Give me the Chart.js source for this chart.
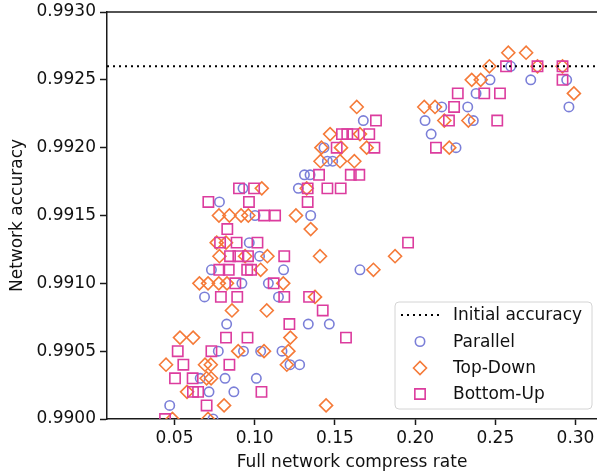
<!DOCTYPE html>
<html>
<head>
<meta charset="utf-8">
<script src="https://cdn.jsdelivr.net/npm/chart.js@4"></script>
<style>
  html, body { margin: 0; padding: 0; background: #fff; }
  #wrap { width: 597px; height: 474px; }
</style>
</head>
<body>
<div id="wrap"><canvas id="c" width="597" height="474"></canvas></div>
<script>
// ---- data ----
const xTicks = [0.05, 0.10, 0.15, 0.20, 0.25, 0.30];
const yTicks = [0.9900, 0.9905, 0.9910, 0.9915, 0.9920, 0.9925, 0.9930];
const xRange = [0.0079, 0.3134];
const yRange = [0.9900, 0.9930];
const initialAccuracy = 0.9926;
const seriesNames = ['Initial accuracy', 'Parallel', 'Top-Down', 'Bottom-Up'];

const parallelX = [0.074, 0.047, 0.0715, 0.087, 0.066, 0.0815, 0.101, 0.122, 0.128, 0.0773, 0.093, 0.1037, 0.117, 0.0825, 0.1334, 0.1465, 0.0687, 0.1148, 0.092, 0.1085, 0.073, 0.118, 0.1656, 0.103, 0.0966, 0.1002, 0.1349, 0.078, 0.0927, 0.1272, 0.131, 0.1345, 0.1453, 0.1486, 0.1432, 0.2255, 0.210, 0.1677, 0.2062, 0.2363, 0.2166, 0.2328, 0.2959, 0.238, 0.2467, 0.2721, 0.2945, 0.2596];
const parallelY = [0.9900, 0.9901, 0.9902, 0.9902, 0.9903, 0.9903, 0.9903, 0.9904, 0.9904, 0.9905, 0.9905, 0.9905, 0.9905, 0.9907, 0.9907, 0.9907, 0.9909, 0.9909, 0.9910, 0.9910, 0.9911, 0.9911, 0.9911, 0.9912, 0.9913, 0.9915, 0.9915, 0.9916, 0.9917, 0.9917, 0.9918, 0.9918, 0.9919, 0.9919, 0.9920, 0.9920, 0.9921, 0.9922, 0.9922, 0.9922, 0.9923, 0.9923, 0.9923, 0.9924, 0.9925, 0.9925, 0.9925, 0.9926];

const topDownX = [0.0487, 0.0709, 0.0809, 0.1445, 0.0578, 0.070, 0.0728, 0.0447, 0.069, 0.0726, 0.120, 0.0897, 0.1058, 0.121, 0.0534, 0.0616, 0.1222, 0.0858, 0.1075, 0.1376, 0.0655, 0.0709, 0.0776, 0.0827, 0.1178, 0.1037, 0.174, 0.078, 0.094, 0.1079, 0.1407, 0.1875, 0.0763, 0.0821, 0.1349, 0.0777, 0.0842, 0.0915, 0.096, 0.1257, 0.1044, 0.1324, 0.141, 0.1532, 0.1621, 0.1416, 0.1538, 0.1698, 0.2213, 0.147, 0.1656, 0.2182, 0.2332, 0.1636, 0.2057, 0.2124, 0.299, 0.2353, 0.2409, 0.2463, 0.2763, 0.2919, 0.2581, 0.2692];
const topDownY = [0.9900, 0.9900, 0.9901, 0.9901, 0.9902, 0.9903, 0.9903, 0.9904, 0.9904, 0.9904, 0.9904, 0.9905, 0.9905, 0.9905, 0.9906, 0.9906, 0.9906, 0.9908, 0.9908, 0.9909, 0.9910, 0.9910, 0.9910, 0.9910, 0.9910, 0.9911, 0.9911, 0.9912, 0.9912, 0.9912, 0.9912, 0.9912, 0.9913, 0.9913, 0.9914, 0.9915, 0.9915, 0.9915, 0.9915, 0.9915, 0.9917, 0.9917, 0.9919, 0.9919, 0.9919, 0.9920, 0.9920, 0.9920, 0.9920, 0.9921, 0.9921, 0.9922, 0.9922, 0.9923, 0.9923, 0.9923, 0.9924, 0.9925, 0.9925, 0.9926, 0.9926, 0.9926, 0.9927, 0.9927];

const bottomUpX = [0.0441, 0.070, 0.0615, 0.0647, 0.1042, 0.0503, 0.0613, 0.0555, 0.0842, 0.052, 0.073, 0.0821, 0.0955, 0.1569, 0.1216, 0.1424, 0.0789, 0.0891, 0.1184, 0.1339, 0.0879, 0.1118, 0.0779, 0.0838, 0.0953, 0.0977, 0.0846, 0.0898, 0.0958, 0.1184, 0.0784, 0.0887, 0.1017, 0.1956, 0.0829, 0.1058, 0.1127, 0.0711, 0.0964, 0.133, 0.0902, 0.0996, 0.133, 0.1453, 0.1536, 0.1401, 0.1599, 0.1652, 0.1511, 0.1746, 0.213, 0.1544, 0.1577, 0.1615, 0.1714, 0.1756, 0.2211, 0.2512, 0.2243, 0.2266, 0.2431, 0.2529, 0.2919, 0.2567, 0.2763, 0.2919];
const bottomUpY = [0.9900, 0.9901, 0.9902, 0.9902, 0.9902, 0.9903, 0.9903, 0.9904, 0.9904, 0.9905, 0.9905, 0.9906, 0.9906, 0.9906, 0.9907, 0.9908, 0.9909, 0.9909, 0.9909, 0.9909, 0.9910, 0.9910, 0.9911, 0.9911, 0.9911, 0.9911, 0.9912, 0.9912, 0.9912, 0.9912, 0.9913, 0.9913, 0.9913, 0.9913, 0.9914, 0.9915, 0.9915, 0.9916, 0.9916, 0.9916, 0.9917, 0.9917, 0.9917, 0.9917, 0.9917, 0.9918, 0.9918, 0.9918, 0.9920, 0.9920, 0.9920, 0.9921, 0.9921, 0.9921, 0.9921, 0.9922, 0.9922, 0.9922, 0.9923, 0.9924, 0.9924, 0.9924, 0.9925, 0.9926, 0.9926, 0.9926];

// ---- styles ----
const colParallel = '#7b7fd8';
const colTopDown = '#f57a38';
const colBottomUp = '#dc3c9e';
const FONT = 'DejaVu Sans';
const FS = 17;
const AXIS_COL = '#1a1a1a';

function pts(xs, ys) { return xs.map((x, i) => ({ x: x, y: ys[i] })); }

const legendPlugin = {
  id: 'customLegend',
  afterDraw(chart) {
    const ctx = chart.ctx;
    const ca = chart.chartArea;
    // top spine
    ctx.save();
    ctx.strokeStyle = AXIS_COL;
    ctx.lineWidth = 1.5;
    ctx.beginPath();
    ctx.moveTo(ca.left - 0.75, ca.top);
    ctx.lineTo(ca.right, ca.top);
    ctx.stroke();
    ctx.restore();

    // legend box
    const bx = 395, by = 302, bw = 197, bh = 107, r = 4;
    ctx.save();
    ctx.beginPath();
    ctx.moveTo(bx + r, by);
    ctx.lineTo(bx + bw - r, by);
    ctx.quadraticCurveTo(bx + bw, by, bx + bw, by + r);
    ctx.lineTo(bx + bw, by + bh - r);
    ctx.quadraticCurveTo(bx + bw, by + bh, bx + bw - r, by + bh);
    ctx.lineTo(bx + r, by + bh);
    ctx.quadraticCurveTo(bx, by + bh, bx, by + bh - r);
    ctx.lineTo(bx, by + r);
    ctx.quadraticCurveTo(bx, by, bx + r, by);
    ctx.closePath();
    ctx.fillStyle = 'rgba(255,255,255,0.85)';
    ctx.fill();
    ctx.strokeStyle = '#d4d4d4';
    ctx.lineWidth = 1;
    ctx.stroke();

    const rows = [315, 341.5, 368, 394];
    const mx = 420, tx = 453;
    ctx.strokeStyle = '#000';
    ctx.lineWidth = 2;
    ctx.setLineDash([2, 4]);
    ctx.beginPath();
    ctx.moveTo(401, rows[0]);
    ctx.lineTo(439, rows[0]);
    ctx.stroke();
    ctx.setLineDash([]);
    const ds = chart.data.datasets;
    const drawPt = Chart.helpers.drawPoint;
    [1, 2, 3].forEach((di, i) => {
      const d = ds[di];
      ctx.strokeStyle = d.borderColor;
      ctx.fillStyle = 'rgba(0,0,0,0)';
      ctx.lineWidth = d.borderWidth;
      drawPt(ctx, { pointStyle: d.pointStyle, radius: d.pointRadius, borderWidth: d.borderWidth, rotation: 0 }, mx, rows[i + 1]);
    });
    ctx.fillStyle = '#111';
    ctx.font = FS + 'px "' + FONT + '"';
    ctx.textBaseline = 'middle';
    ctx.textAlign = 'left';
    ds.forEach((d, i) => ctx.fillText(d.label, tx, rows[i] + 1));
    ctx.restore();
  }
};

new Chart(document.getElementById('c'), {
  type: 'scatter',
  data: {
    datasets: [
      {
        type: 'line',
        label: seriesNames[0],
        data: pts(xRange, [initialAccuracy, initialAccuracy]),
        borderColor: '#000',
        borderWidth: 2,
        borderDash: [2, 4],
        pointRadius: 0,
        fill: false,
        order: 0,
        clip: 0
      },
      {
        label: seriesNames[1],
        data: pts(parallelX, parallelY),
        pointStyle: 'circle',
        pointRadius: 4.7,
        borderWidth: 1.6,
        borderColor: colParallel,
        backgroundColor: 'rgba(0,0,0,0)',
        order: 3,
        clip: 0
      },
      {
        label: seriesNames[2],
        data: pts(topDownX, topDownY),
        pointStyle: 'rectRot',
        pointRadius: 6.5,
        borderWidth: 1.6,
        borderColor: colTopDown,
        backgroundColor: 'rgba(0,0,0,0)',
        order: 2,
        clip: 0
      },
      {
        label: seriesNames[3],
        data: pts(bottomUpX, bottomUpY),
        pointStyle: 'rect',
        pointRadius: 7.3,
        borderWidth: 1.6,
        borderColor: colBottomUp,
        backgroundColor: 'rgba(0,0,0,0)',
        order: 1,
        clip: 0
      }
    ]
  },
  options: {
    responsive: false,
    animation: false,
    devicePixelRatio: 1,
    layout: { autoPadding: false, padding: { left: 0, right: 0, top: 12, bottom: 0 } },
    plugins: { legend: { display: false }, tooltip: { enabled: false } },
    elements: { point: { hoverRadius: 0 } },
    scales: {
      x: {
        type: 'linear',
        position: 'bottom',
        min: xRange[0],
        max: xRange[1],
        afterBuildTicks: (s) => { s.ticks = xTicks.map(v => ({ value: v })); },
        afterFit: (s) => { s.height = 55; s.paddingLeft = 0; s.paddingRight = 0; },
        ticks: {
          color: '#111',
          font: { family: FONT, size: FS },
          padding: 3,
          maxRotation: 0,
          callback: (v) => Number(v).toFixed(2)
        },
        grid: { drawOnChartArea: false, drawTicks: true, tickLength: 6, tickWidth: 1.5, color: AXIS_COL },
        border: { display: true, color: AXIS_COL, width: 1.5 },
        title: { display: true, text: 'Full network compress rate', color: '#111', font: { family: FONT, size: FS }, padding: { top: 0, bottom: 1 } }
      },
      y: {
        type: 'linear',
        position: 'left',
        min: yRange[0],
        max: yRange[1],
        afterBuildTicks: (s) => { s.ticks = yTicks.map(v => ({ value: v })); },
        afterFit: (s) => { s.width = 107; s.paddingTop = 0; s.paddingBottom = 0; },
        ticks: {
          color: '#111',
          font: { family: FONT, size: FS },
          padding: 4,
          callback: (v) => Number(v).toFixed(4)
        },
        grid: { drawOnChartArea: false, drawTicks: true, tickLength: 7, tickWidth: 1.5, color: AXIS_COL },
        border: { display: true, color: AXIS_COL, width: 1.5 },
        title: { display: true, text: 'Network accuracy', color: '#111', font: { family: FONT, size: FS }, padding: { top: 7, bottom: 0 } }
      }
    }
  },
  plugins: [legendPlugin]
});
</script>
</body>
</html>
